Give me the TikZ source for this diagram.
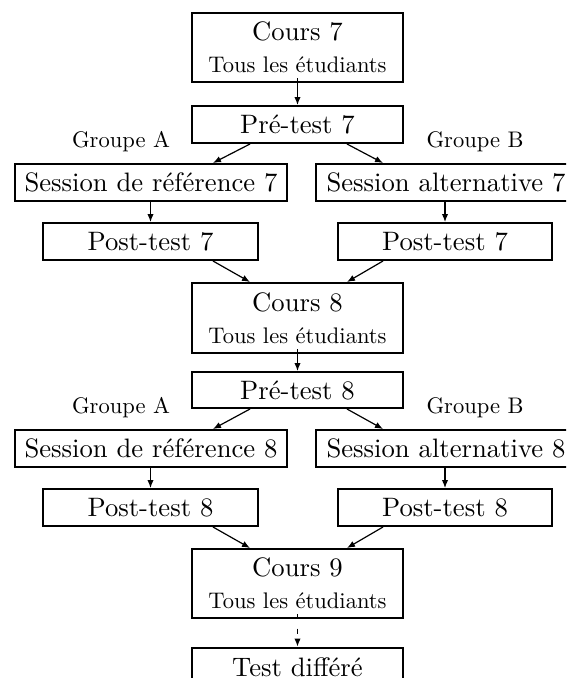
\documentclass[tikz,border=0pt]{standalone}
\usetikzlibrary{arrows.meta,calc}
\font\smallf="[lmroman10-regular]:mapping=tex-text" at 8.45pt
\begin{document}
\begin{tikzpicture}[x=0.375pt,y=-0.375pt,
  box/.style={draw,line width=0.75pt,inner sep=0pt,font=\fontsize{10}{12}\selectfont,
    text height=7pt,text depth=0pt},
  cbox/.style={draw,line width=0.75pt,inner sep=0pt,font=\fontsize{10}{12}\selectfont,
    align=center,minimum width=211*0.375pt,minimum height=69*0.375pt},
  boxw/.style={minimum width=#1*0.375pt},
  boxh/.style={minimum height=#1*0.375pt},
  grp/.style={anchor=base,inner sep=0pt,font=\smallf},
  arr/.style={line width=0.45pt,-{Latex[length=3pt,width=2.4pt]}},
  darr/.style={arr,dash pattern=on 2pt off 3.5pt}]
\useasboundingbox (0,0) rectangle (566,678);
\clip (0,0) rectangle (566,678);
\fill[white] (0,0) rectangle (566,678);

% block 7
\node[cbox] (c7) at (297.5,47.5) {Cours 7\\{\smallf Tous les étudiants}};
\node[box,boxw=211,boxh=37] (p7) at (297.5,124.5) {Pré-test 7};
\node[grp] (gA7) at (121,147) {Groupe A};
\node[grp] (gB7) at (475,147) {Groupe B};
\node[box,boxw=272,boxh=37] (r7) at (151,182.5) {Session de référence 7};
\node[box,boxw=260,boxh=37] (a7) at (446,182.5) {Session alternative 7};
\node[box,boxw=215,boxh=37] (pl7) at (150.5,241.5) {Post-test 7};
\node[box,boxw=214,boxh=37] (pr7) at (445,241.5) {Post-test 7};

% block 8
\node[cbox,boxh=70] (c8) at (297.5,318) {Cours 8\\{\smallf Tous les étudiants}};
\node[box,boxw=211,boxh=36] (p8) at (297.5,390) {Pré-test 8};
\node[grp] (gA8) at (121,413) {Groupe A};
\node[grp] (gB8) at (475,413) {Groupe B};
\node[box,boxw=272,boxh=37] (r8) at (151,448.5) {Session de référence 8};
\node[box,boxw=260,boxh=37] (a8) at (446,448.5) {Session alternative 8};
\node[box,boxw=215,boxh=37] (pl8) at (150.5,507.5) {Post-test 8};
\node[box,boxw=214,boxh=37] (pr8) at (445,507.5) {Post-test 8};

% block 9
\node[cbox] (c9) at (297.5,583.5) {Cours 9\\{\smallf Tous les étudiants}};
\node[box,boxw=211,boxh=40] (td) at (297.5,667.5) {Test différé};

% arrows block 7
\draw[arr] ($(c7.south)+(0,-5)$) -- (p7.north);
\draw[arr] ($(p7.south)+(-47.5,0)$) -- ($(r7.north)+(62,0)$);
\draw[arr] ($(p7.south)+(49.5,0)$) -- ($(a7.north)+(-63,0)$);
\draw[arr] (pl7.north |- r7.south) -- (pl7.north);
\draw[arr] (pr7.north |- a7.south) -- (pr7.north);
\draw[arr] ($(pl7.south)+(62.5,0)$) -- ($(c8.north)+(-47.5,0)$);
\draw[arr] ($(pr7.south)+(-62,0)$) -- ($(c8.north)+(49.5,0)$);

% arrows block 8
\draw[arr] ($(c8.south)+(0,-5)$) -- (p8.north);
\draw[arr] ($(p8.south)+(-47.5,0)$) -- ($(r8.north)+(62,0)$);
\draw[arr] ($(p8.south)+(49.5,0)$) -- ($(a8.north)+(-63,0)$);
\draw[arr] (pl8.north |- r8.south) -- (pl8.north);
\draw[arr] (pr8.north |- a8.south) -- (pr8.north);
\draw[arr] ($(pl8.south)+(62.5,0)$) -- ($(c9.north)+(-47.5,0)$);
\draw[arr] ($(pr8.south)+(-62,0)$) -- ($(c9.north)+(49.5,0)$);

% dashed
\draw[darr] ($(c9.south)+(0,-5)$) -- (td.north);
\end{tikzpicture}
\end{document}
